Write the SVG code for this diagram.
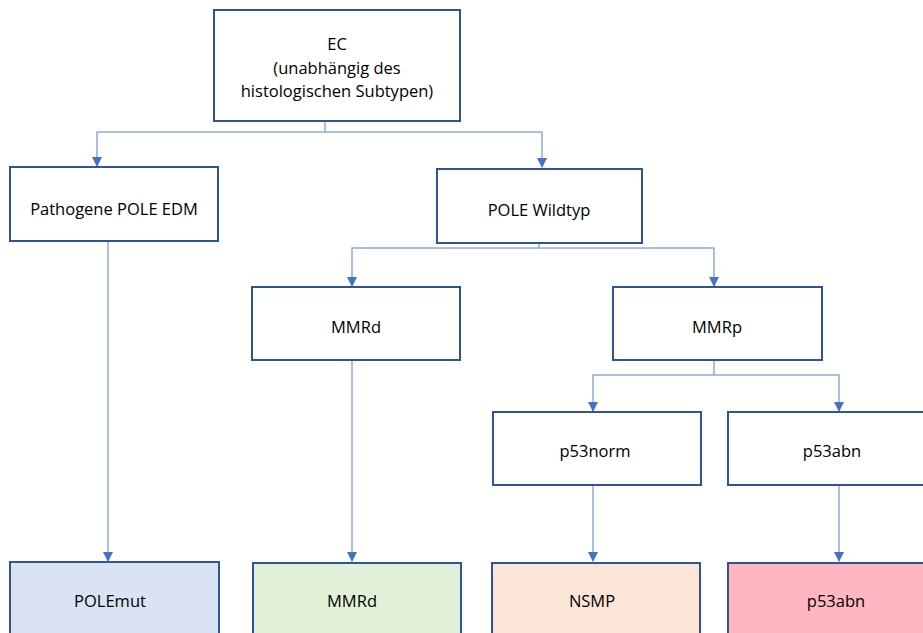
<svg xmlns="http://www.w3.org/2000/svg" width="923" height="633" viewBox="0 0 923 633">
<style>
.box{fill:#ffffff;stroke:#2F5597;stroke-width:2}
.c{fill:none;stroke:#8FAADC;stroke-width:1.5}
.t{font-family:"Open Sans","Liberation Sans",sans-serif;font-size:16.5px;fill:#000;text-anchor:middle}
</style>
<defs>
<marker id="ah" markerWidth="10" markerHeight="10" refX="9" refY="5" orient="auto" markerUnits="userSpaceOnUse">
<path d="M0,0 L10,5 L0,10 Z" fill="#4472C4"/>
</marker>
</defs>
<rect width="923" height="633" fill="#ffffff"/>
<g id="connectors">
<polyline class="c" points="325,121 325,132 97,132 97,166" marker-end="url(#ah)"/>
<polyline class="c" points="325,132 542,132 542,167" marker-end="url(#ah)"/>
<polyline class="c" points="539,244 539,248 352,248 352,286" marker-end="url(#ah)"/>
<polyline class="c" points="539,248 714,248 714,286" marker-end="url(#ah)"/>
<polyline class="c" points="714,361 714,375 593,375 593,411" marker-end="url(#ah)"/>
<polyline class="c" points="714,375 839,375 839,411" marker-end="url(#ah)"/>
<line class="c" x1="108" y1="242" x2="108" y2="561" marker-end="url(#ah)"/>
<line class="c" x1="352" y1="361" x2="352" y2="561" marker-end="url(#ah)"/>
<line class="c" x1="593" y1="486" x2="593" y2="561" marker-end="url(#ah)"/>
<line class="c" x1="839" y1="486" x2="839" y2="561" marker-end="url(#ah)"/>
</g>
<g id="ec"><rect class="box" x="214" y="10" width="246" height="111"/>
<text class="t" x="337" y="50">EC</text>
<text class="t" x="337" y="74">(unabhängig des</text>
<text class="t" x="337" y="97">histologischen Subtypen)</text></g>
<g id="pathogene"><rect class="box" x="10" y="167" width="208" height="74"/>
<text class="t" x="114" y="215">Pathogene POLE EDM</text></g>
<g id="wildtyp"><rect class="box" x="437" y="169" width="205" height="74"/>
<text class="t" x="539" y="216">POLE Wildtyp</text></g>
<g id="mmrd1"><rect class="box" x="252" y="287" width="208" height="73"/>
<text class="t" x="356" y="333">MMRd</text></g>
<g id="mmrp"><rect class="box" x="613" y="287" width="209" height="73"/>
<text class="t" x="717" y="333">MMRp</text></g>
<g id="p53norm"><rect class="box" x="493" y="412" width="208" height="73"/>
<text class="t" x="595" y="457">p53norm</text></g>
<g id="p53abn1"><rect class="box" x="728" y="412" width="208" height="73"/>
<text class="t" x="832" y="457">p53abn</text></g>
<g id="polemut"><rect class="box" x="10" y="562" width="209" height="80" style="fill:#DAE3F3"/>
<text class="t" x="110" y="607">POLEmut</text></g>
<g id="mmrd2"><rect class="box" x="253" y="563" width="208" height="80" style="fill:#E2F0D9"/>
<text class="t" x="352" y="607">MMRd</text></g>
<g id="nsmp"><rect class="box" x="492" y="563" width="208" height="80" style="fill:#FBE5D6"/>
<text class="t" x="592" y="607">NSMP</text></g>
<g id="p53abn2"><rect class="box" x="728" y="563" width="208" height="80" style="fill:#FFB6C1"/>
<text class="t" x="836" y="607">p53abn</text></g>
</svg>
